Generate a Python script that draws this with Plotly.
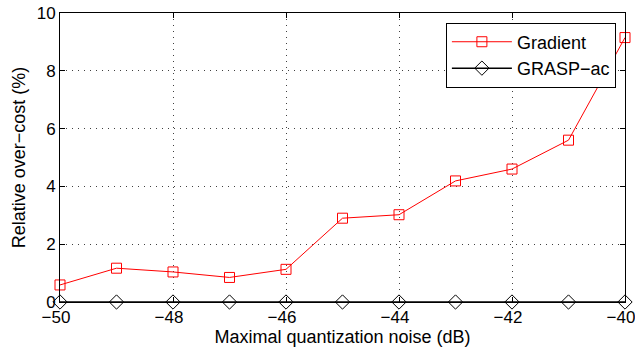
import plotly.graph_objects as go

noise_db = [-50, -49, -48, -47, -46, -45, -44, -43, -42, -41, -40]
gradient = [0.59, 1.17, 1.04, 0.85, 1.13, 2.9, 3.02, 4.19, 4.6, 5.6, 9.15]
grasp_ac = [0, 0, 0, 0, 0, 0, 0, 0, 0, 0, 0]

fig = go.Figure()
fig.add_trace(go.Scatter(
    x=noise_db, y=gradient, name="Gradient", mode="lines+markers",
    line=dict(color="red", width=1),
    marker=dict(symbol="square-open", size=10, color="red", line=dict(width=1)),
    cliponaxis=False,
))
fig.add_trace(go.Scatter(
    x=noise_db, y=grasp_ac, name="GRASP\u2212ac", mode="lines+markers",
    line=dict(color="black", width=1.5),
    marker=dict(symbol="diamond-open", size=11, color="black", line=dict(width=1)),
    cliponaxis=False,
))

axis_common = dict(
    showline=True, linecolor="black", linewidth=1, mirror="ticks",
    ticks="inside", ticklen=5, tickcolor="black",
    showgrid=True, gridcolor="rgba(0,0,0,0.75)", griddash="1px,5px", gridwidth=1,
    zeroline=False, automargin=False, ticklabeloverflow="allow",
    tickfont=dict(size=17, color="black"),
)

fig.update_xaxes(
    range=[-50, -40], tickmode="array",
    tickvals=[-50, -48, -46, -44, -42, -40],
    ticktext=["\u221250", "\u221248", "\u221246", "\u221244", "\u221242", "\u221240"],
    ticklabelshift=0, ticklabelstandoff=0,
    title=dict(text="Maximal quantization noise (dB)", font=dict(size=18, color="black"), standoff=0),
    **axis_common,
)
fig.update_yaxes(
    range=[0, 10], tickmode="array", tickvals=[0, 2, 4, 6, 8, 10],
    title=dict(text="Relative over\u2212cost (%)", font=dict(size=18, color="black"), standoff=6),
    **axis_common,
)

fig.update_layout(
    width=635, height=354,
    margin=dict(l=60, r=10, t=13, b=52),
    paper_bgcolor="white", plot_bgcolor="white",
    font=dict(family="Liberation Sans, Arial, sans-serif", size=18, color="black"),
    legend=dict(
        x=0.683, y=0.967, xanchor="left", yanchor="top",
        bordercolor="black", borderwidth=1, bgcolor="white",
        font=dict(size=18), itemwidth=60, tracegroupgap=0,
    ),
    showlegend=True,
)

fig.write_html(
    "out.html",
    config={"displayModeBar": False},
    post_script=(
        "document.body.style.margin='0';document.body.style.overflow='hidden';"
        "document.querySelectorAll('.xtick text').forEach(function(t){"
        "var x=parseFloat(t.getAttribute('x'))||0;t.setAttribute('x',x-4);});"
    ),
)
